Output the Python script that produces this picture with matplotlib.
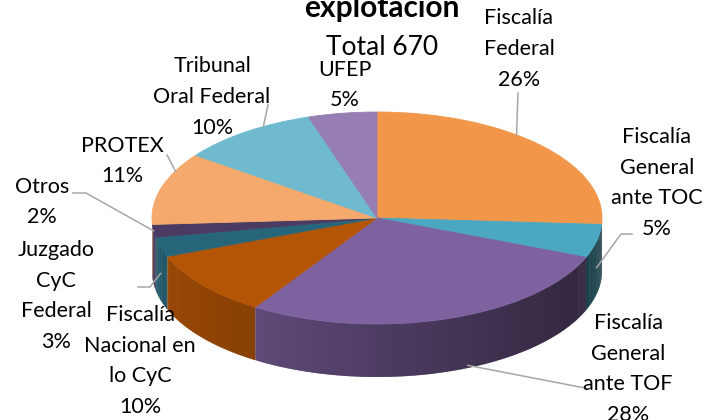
import numpy as np
import matplotlib.pyplot as plt
from matplotlib.collections import PolyCollection
from matplotlib.colors import to_rgb

# data
categories = ["Fiscalía\nFederal", "Fiscalía\nGeneral\nante TOC", "Fiscalía\nGeneral\nante TOF",
              "Fiscalía\nNacional en\nlo CyC", "Juzgado\nCyC\nFederal", "Otros",
              "PROTEX", "Tribunal\nOral Federal", "UFEP"]
counts = np.array([174, 34, 188, 67, 20, 13, 74, 67, 33])
colors = ["#F29649", "#4BA8C3", "#7E62A0", "#B45506", "#27667A", "#4B3A62",
          "#F5A96C", "#6FBACE", "#967EB3"]
title_lines = ["explotación", "Total 670"]

W, H = 705, 420
CX, CY = 377, 218          # centre of top face (pixels)
RX, RY, DEPTH = 225, 106, 53

fig = plt.figure(figsize=(W / 100, H / 100), dpi=100)

# pie axes: circle in data units shows as an ellipse
K = RX / RY
ax = fig.add_axes([0, 0, 1, 1])
cy = (H - CY) * K
depth = DEPTH * K

fracs = counts / counts.sum()
bounds = 90 - 360 * np.concatenate([[0], np.cumsum(fracs)])

# side wall, built from thin overlapping strips with a horizontal shading
polys, fcols = [], []
for i in range(len(counts)):
    t0, t1 = bounds[i], bounds[i + 1]
    n = max(2, int((t0 - t1) / 0.6))
    ts = np.radians(np.linspace(t1, t0, n))
    step = ts[1] - ts[0]
    base = np.array(to_rgb(colors[i]))
    for a, b in zip(ts[:-1], ts[1:]):
        m = (a + b) / 2
        if np.sin(m) >= 0.02:
            continue
        b = min(b + step * 0.6, np.radians(t0))
        xa, ya = CX + RX * np.cos(a), cy + RX * np.sin(a)
        xb, yb = CX + RX * np.cos(b), cy + RX * np.sin(b)
        polys.append([(xa, ya), (xb, yb), (xb, yb - depth), (xa, ya - depth)])
        f = 0.86 - 0.48 * ((xa + xb) / 2 - (CX - RX)) / (2 * RX)
        fcols.append(tuple(base * f))
side = PolyCollection(polys, facecolors=fcols, edgecolors="none", linewidths=0)
ax.add_collection(side)

wedges, _ = ax.pie(counts, colors=colors, startangle=90, counterclock=False,
                   radius=RX, center=(CX, cy), wedgeprops=dict(linewidth=0.6))
for w in wedges:
    w.set_edgecolor(w.get_facecolor())
ax.set_aspect("auto")
ax.set_xlim(0, W)
ax.set_ylim(0, H * K)
ax.axis("off")

# overlay in pixel coordinates for labels and leader lines
ov = fig.add_axes([0, 0, 1, 1])
ov.set_xlim(0, W)
ov.set_ylim(H, 0)
ov.axis("off")
ov.patch.set_alpha(0)

font = "Lato"
ov.text(382, 17, title_lines[0], ha="center", va="baseline", fontsize=21.5,
        fontweight="bold", family=font)
ov.text(382, 55, title_lines[1], ha="center", va="baseline", fontsize=19, family=font)

label_pos = [(519, 49), (657, 183), (628, 369), (140, 361), (56, 296),
             (42, 202), (122, 161), (212, 97), (345, 85)]
pct = np.round(fracs * 100).astype(int)
for name, p, (x, y) in zip(categories, pct, label_pos):
    ov.text(x, y, f"{name}\n{p}%", ha="center", va="center", fontsize=15.5,
            family=font, linespacing=1.66)

# leader lines: label end -> point on slice (fraction along slice, depth share)
leader = {0: ([(518, 93)], 0.41, 0.0), 1: ([(632, 234), (621, 234)], 0.5, 0.5),
          2: ([(585, 388)], 0.44, 0.95), 4: ([(138, 287), (150, 287)], 0.5, 0.5),
          5: ([(73, 193), (86, 193)], 0.5, 0.0), 6: ([(167, 155)], 0.75, 0.0),
          7: ([(268, 105)], 0.65, 0.0)}
for i, (pts, frac, down) in leader.items():
    m = np.radians(bounds[i] + (bounds[i + 1] - bounds[i]) * frac)
    ax_x = CX + RX * np.cos(m)
    ax_y = CY - RY * np.sin(m) + DEPTH * down
    xs = [p[0] for p in pts] + [ax_x]
    ys = [p[1] for p in pts] + [ax_y]
    ov.plot(xs, ys, color="#A6A6A6", lw=1.1)

fig.savefig("out.png", dpi=100)
